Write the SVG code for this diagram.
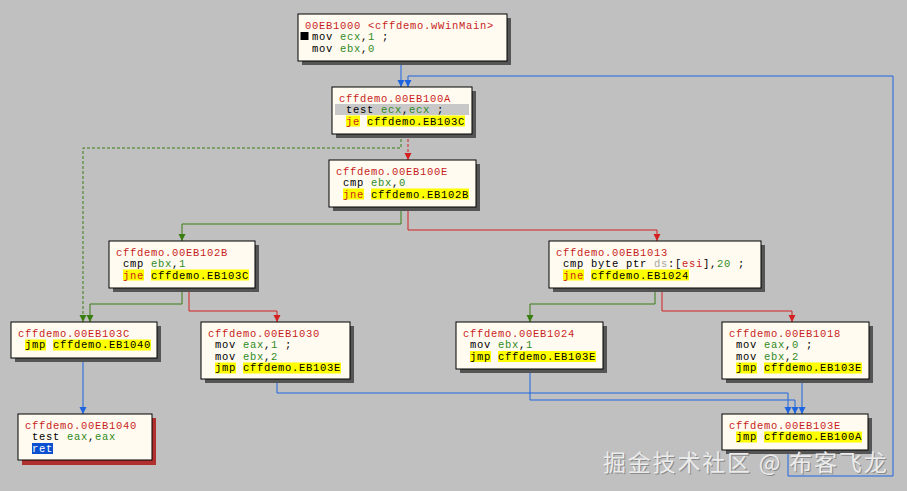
<svg xmlns="http://www.w3.org/2000/svg" width="907" height="491" viewBox="0 0 907 491">
<style>
text{font-family:"Liberation Mono",monospace;font-size:10.5px;letter-spacing:0.7px;white-space:pre;fill:#000}
.lbl{fill:#c81e1e}
.g{fill:#2f8a1e}
.r{fill:#c81e1e}
.gy{fill:#a8a8a8}
.w{fill:#fff}
.box{fill:#fffbf0;stroke:#000;stroke-width:1}
.sh{fill:#555}
.shr{fill:#b03030}
.hy{fill:#ffff00}
.hg{fill:#c8c8c8}
.hb{fill:#0a50d0}
.c{fill:none;stroke-width:1}
.cb{stroke:#1e64e0}
.cg{stroke:#3a7d10}
.cr{stroke:#d42020}
.d{stroke-dasharray:3,2}
.wm{font-family:"Noto Sans CJK SC","Noto Sans",sans-serif;font-size:23px;letter-spacing:1.8px}
</style>
<defs>
<marker id="ab" viewBox="0 -4 8 8" refX="7" refY="0" markerWidth="8" markerHeight="8" markerUnits="userSpaceOnUse" orient="auto"><path d="M0,-3.5 L7,0 L0,3.5 z" fill="#1e64e0"/></marker>
<marker id="ag" viewBox="0 -4 8 8" refX="7" refY="0" markerWidth="8" markerHeight="8" markerUnits="userSpaceOnUse" orient="auto"><path d="M0,-3.5 L7,0 L0,3.5 z" fill="#3a7d10"/></marker>
<marker id="ar" viewBox="0 -4 8 8" refX="7" refY="0" markerWidth="8" markerHeight="8" markerUnits="userSpaceOnUse" orient="auto"><path d="M0,-3.5 L7,0 L0,3.5 z" fill="#d42020"/></marker>
</defs>
<rect width="907" height="491" fill="#c0c0c0"/>

<g id="connectors">
<path class="c cb" d="M401,61 V87" marker-end="url(#ab)"/>
<path class="c cb" d="M788,450 V476 H893 V76 H408 V87" marker-end="url(#ab)"/>
<path class="c cg d" d="M401,134 V148 H83 V322" marker-end="url(#ag)"/>
<path class="c cr d" d="M408,134 V160" marker-end="url(#ar)"/>
<path class="c cg" d="M401,207 V224 H182 V241" marker-end="url(#ag)"/>
<path class="c cr" d="M408,207 V230 H657 V241" marker-end="url(#ar)"/>
<path class="c cg" d="M182,288 V304 H90 V322" marker-end="url(#ag)"/>
<path class="c cr" d="M189,288 V311 H277 V322" marker-end="url(#ar)"/>
<path class="c cb" d="M83,358 V414" marker-end="url(#ab)"/>
<path class="c cg" d="M655,288 V304 H530 V322" marker-end="url(#ag)"/>
<path class="c cr" d="M662,288 V311 H792 V322" marker-end="url(#ar)"/>
<path class="c cb" d="M277,379 V393 H788 V414" marker-end="url(#ab)"/>
<path class="c cb" d="M530,369 V400 H795 V414" marker-end="url(#ab)"/>
<path class="c cb" d="M802,379 V414" marker-end="url(#ab)"/>
</g>

<g id="n1000">
<rect class="sh" x="302" y="18" width="209" height="47"/>
<rect class="box" x="298" y="14" width="209" height="47"/>
<text x="305" y="28.5" class="lbl">00EB1000 &lt;cffdemo.wWinMain&gt;</text>
<rect x="300.5" y="32" width="8" height="8" fill="#000"/>
<text x="305" y="40"> mov <tspan class="g">ecx</tspan>,<tspan class="g">1</tspan> ;</text>
<text x="305" y="51.5"> mov <tspan class="g">ebx</tspan>,<tspan class="g">0</tspan></text>
</g>

<g id="n100A">
<rect class="sh" x="336" y="91" width="140" height="47"/>
<rect class="box" x="332" y="87" width="140" height="47"/>
<text x="339" y="101.5" class="lbl">cffdemo.00EB100A</text>
<rect class="hg" x="335" y="104" width="134" height="11"/>
<text x="339" y="113"> test <tspan class="g">ecx</tspan>,<tspan class="g">ecx</tspan> ;</text>
<rect class="hy" x="346" y="115.5" width="14" height="11"/>
<rect class="hy" x="367" y="115.5" width="98" height="11"/>
<text x="339" y="124.5"> <tspan class="r">je</tspan> cffdemo.EB103C</text>
</g>

<g id="n100E">
<rect class="sh" x="333" y="164" width="147" height="47"/>
<rect class="box" x="329" y="160" width="147" height="47"/>
<text x="336" y="174.5" class="lbl">cffdemo.00EB100E</text>
<text x="336" y="186"> cmp <tspan class="g">ebx</tspan>,<tspan class="g">0</tspan></text>
<rect class="hy" x="343" y="188.5" width="21" height="11"/>
<rect class="hy" x="371" y="188.5" width="98" height="11"/>
<text x="336" y="197.5"> <tspan class="r">jne</tspan> cffdemo.EB102B</text>
</g>

<g id="n102B">
<rect class="sh" x="113" y="245" width="146" height="47"/>
<rect class="box" x="109" y="241" width="146" height="47"/>
<text x="116" y="255.5" class="lbl">cffdemo.00EB102B</text>
<text x="116" y="267"> cmp <tspan class="g">ebx</tspan>,<tspan class="g">1</tspan></text>
<rect class="hy" x="123" y="269.5" width="21" height="11"/>
<rect class="hy" x="151" y="269.5" width="98" height="11"/>
<text x="116" y="278.5"> <tspan class="r">jne</tspan> cffdemo.EB103C</text>
</g>

<g id="n1013">
<rect class="sh" x="553" y="245" width="212" height="47"/>
<rect class="box" x="549" y="241" width="212" height="47"/>
<text x="556" y="255.5" class="lbl">cffdemo.00EB1013</text>
<text x="556" y="267"> cmp byte ptr <tspan class="gy">ds</tspan>:[<tspan class="r">esi</tspan>],<tspan class="g">20</tspan> ;</text>
<rect class="hy" x="563" y="269.5" width="21" height="11"/>
<rect class="hy" x="591" y="269.5" width="98" height="11"/>
<text x="556" y="278.5"> <tspan class="r">jne</tspan> cffdemo.EB1024</text>
</g>

<g id="n103C">
<rect class="sh" x="15" y="326" width="146" height="36"/>
<rect class="box" x="11" y="322" width="146" height="36"/>
<text x="18" y="336.5" class="lbl">cffdemo.00EB103C</text>
<rect class="hy" x="25" y="339.5" width="21" height="11"/>
<rect class="hy" x="53" y="339.5" width="98" height="11"/>
<text x="18" y="348"> jmp cffdemo.EB1040</text>
</g>

<g id="n1030">
<rect class="sh" x="205" y="326" width="149" height="57"/>
<rect class="box" x="201" y="322" width="149" height="57"/>
<text x="208" y="336.5" class="lbl">cffdemo.00EB1030</text>
<text x="208" y="348"> mov <tspan class="g">eax</tspan>,<tspan class="g">1</tspan> ;</text>
<text x="208" y="359.5"> mov <tspan class="g">ebx</tspan>,<tspan class="g">2</tspan></text>
<rect class="hy" x="215" y="362.5" width="21" height="11"/>
<rect class="hy" x="243" y="362.5" width="98" height="11"/>
<text x="208" y="371"> jmp cffdemo.EB103E</text>
</g>

<g id="n1024">
<rect class="sh" x="460" y="326" width="147" height="47"/>
<rect class="box" x="456" y="322" width="147" height="47"/>
<text x="463" y="336.5" class="lbl">cffdemo.00EB1024</text>
<text x="463" y="348"> mov <tspan class="g">ebx</tspan>,<tspan class="g">1</tspan></text>
<rect class="hy" x="470" y="351" width="21" height="11"/>
<rect class="hy" x="498" y="351" width="98" height="11"/>
<text x="463" y="359.5"> jmp cffdemo.EB103E</text>
</g>

<g id="n1018">
<rect class="sh" x="726" y="326" width="147" height="57"/>
<rect class="box" x="722" y="322" width="147" height="57"/>
<text x="729" y="336.5" class="lbl">cffdemo.00EB1018</text>
<text x="729" y="348"> mov <tspan class="g">eax</tspan>,<tspan class="g">0</tspan> ;</text>
<text x="729" y="359.5"> mov <tspan class="g">ebx</tspan>,<tspan class="g">2</tspan></text>
<rect class="hy" x="736" y="362.5" width="21" height="11"/>
<rect class="hy" x="764" y="362.5" width="98" height="11"/>
<text x="729" y="371"> jmp cffdemo.EB103E</text>
</g>

<g id="n1040">
<rect class="shr" x="22" y="418" width="134" height="47"/>
<rect class="box" x="18" y="414" width="134" height="46"/>
<text x="25" y="428.5" class="lbl">cffdemo.00EB1040</text>
<text x="25" y="440"> test <tspan class="g">eax</tspan>,<tspan class="g">eax</tspan></text>
<rect class="hb" x="32" y="443" width="21" height="11"/>
<text x="25" y="451.5"> <tspan class="w">ret</tspan></text>
</g>

<g id="n103E">
<rect class="sh" x="726" y="418" width="146" height="36"/>
<rect class="box" x="722" y="414" width="146" height="36"/>
<text x="729" y="428.5" class="lbl">cffdemo.00EB103E</text>
<rect class="hy" x="736" y="431.5" width="21" height="11"/>
<rect class="hy" x="764" y="431.5" width="98" height="11"/>
<text x="729" y="440"> jmp cffdemo.EB100A</text>
</g>

<g id="watermark">
<text class="wm" x="604" y="472" style="fill:#8a8a8a">掘金技术社区 @ 布客飞龙</text>
<text class="wm" x="603" y="471" style="fill:#ececec">掘金技术社区 @ 布客飞龙</text>
</g>
</svg>
